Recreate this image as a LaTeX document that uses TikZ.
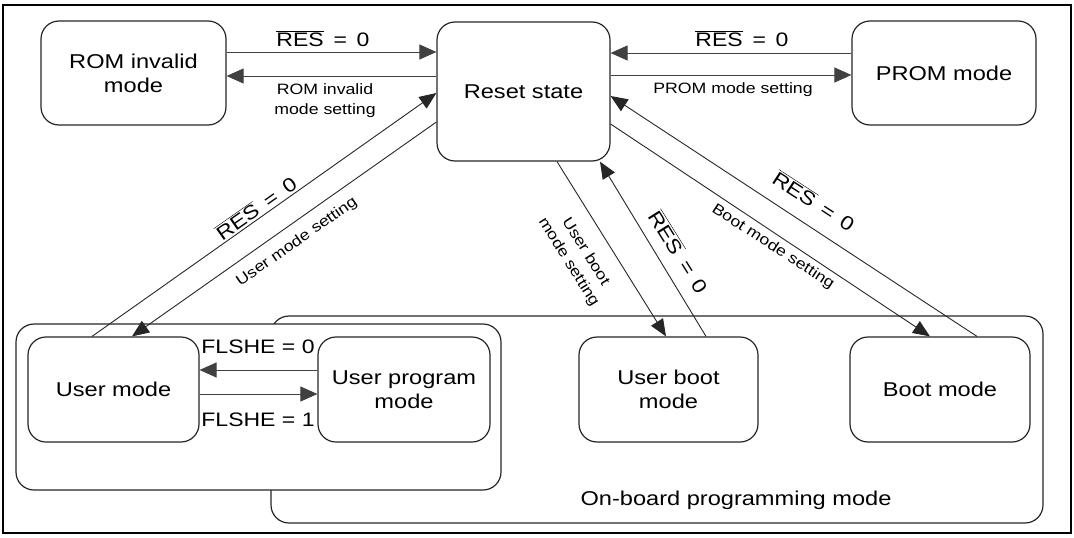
\documentclass[tikz,border=0pt]{standalone}
\usepackage{fontspec}
\setmainfont{Liberation Sans}[FakeStretch=1.18]
\usetikzlibrary{arrows.meta}
\newcommand\ovl[1]{$\overline{\mbox{#1}}$}
\newcommand\reseq{\ovl{RES}\hspace{0.5em}=\hspace{0.5em}0}
\begin{document}
\begin{tikzpicture}[x=1pt,y=-1pt,
  box/.style={draw=black!85, line width=1.2pt, rounded corners=18pt, fill=white, align=center,
    font=\fontsize{20}{24}\selectfont, inner sep=0pt},
  arr/.style={draw=black!75, line width=1pt, -{Triangle[length=17pt,width=15pt]}},
  ln/.style={draw=black!85, line width=0.9pt, -{Triangle[length=17pt,width=14pt]}},
  small/.style={font=\fontsize{15}{20}\selectfont, align=center, inner sep=0pt},
  reslab/.style={font=\fontsize{19.5}{22}\selectfont, inner sep=0pt},
]
\useasboundingbox (0,0) rectangle (1074,538);
\draw[line width=2pt] (3,5) rectangle (1071,533);

% groups
\node[box, minimum width=772pt, minimum height=207pt] (onboard) at (657,419.5) {};
\node[box, minimum width=485pt, minimum height=166pt] (usergrp) at (258.5,407) {};

% states
\node[box, minimum width=185pt, minimum height=104pt] (rom) at (133.5,73) {ROM invalid\\mode};
\node[box, minimum width=173pt, minimum height=139pt] (reset) at (523.5,91.5) {Reset state};
\node[box, minimum width=184pt, minimum height=104pt] (prom) at (944,73) {PROM mode};
\node[box, minimum width=171pt, minimum height=105pt] (um) at (113.5,389.5) {User mode};
\node[box, minimum width=172pt, minimum height=105pt] (up) at (404,389.5) {User program\\mode};
\node[box, minimum width=179pt, minimum height=105pt] (ub) at (668.5,389.5) {User boot\\mode};
\node[box, minimum width=180pt, minimum height=105pt] (boot) at (940,389.5) {Boot mode};

% horizontal connectors
\draw[arr] ([yshift=21pt]rom.east) -- ([yshift=21pt]rom.east -| reset.west);
\draw[arr] ([yshift=-3pt]rom.east -| reset.west) -- ([yshift=-3pt]rom.east);
\draw[arr] ([yshift=20pt]prom.west) -- ([yshift=20pt]prom.west -| reset.east);
\draw[arr] ([yshift=-2pt]prom.west -| reset.east) -- ([yshift=-2pt]prom.west);
\draw[arr] ([yshift=19.5pt]up.west) -- ([yshift=19.5pt]up.west -| um.east);
\draw[arr] ([yshift=-4.5pt]um.east) -- ([yshift=-4.5pt]um.east -| up.west);

% diagonal connectors
\draw[ln] ([xshift=-21.5pt]um.north) -- ([yshift=-1.5pt]reset.west);
\draw[ln] ([yshift=-30.5pt]reset.west) -- ([xshift=18.5pt]um.north);
\draw[ln] ([xshift=33.5pt]reset.south) -- ([xshift=-2.5pt]ub.north);
\draw[ln] ([xshift=37.5pt]ub.north) -- ([xshift=76.5pt]reset.south);
\draw[ln] ([yshift=-32.5pt]reset.east) -- ([xshift=-10pt]boot.north);
\draw[ln] ([xshift=37pt]boot.north) -- ([yshift=-4.5pt]reset.east);

% labels
\node[reslab] (l1) at (323,39) {\reseq};
\node[small] (l2) at (325,101) {ROM invalid\\mode setting};
\node[reslab] (l3) at (742,39) {\reseq};
\node[small] (l4) at (733,90) {PROM mode setting};
\node[reslab, rotate=35] (l5) at (256,208) {\reseq};
\node[small, rotate=35] (l6) at (297,242) {User mode setting};
\node[small, rotate=-58] (l7) at (577,257) {User boot\\mode setting};
\node[reslab, rotate=-58] (l8) at (679,252) {\reseq};
\node[reslab, rotate=-33] (l9) at (814,201) {\reseq};
\node[small, rotate=-33] (l10) at (773,247) {Boot mode setting};
\node[reslab] (l11) at (258,347) {FLSHE = 0};
\node[reslab] (l12) at (258,420) {FLSHE = 1};
\node[reslab, font=\fontsize{20}{22}\selectfont] (l13) at (736,500) {On-board programming mode};
\end{tikzpicture}
\end{document}
